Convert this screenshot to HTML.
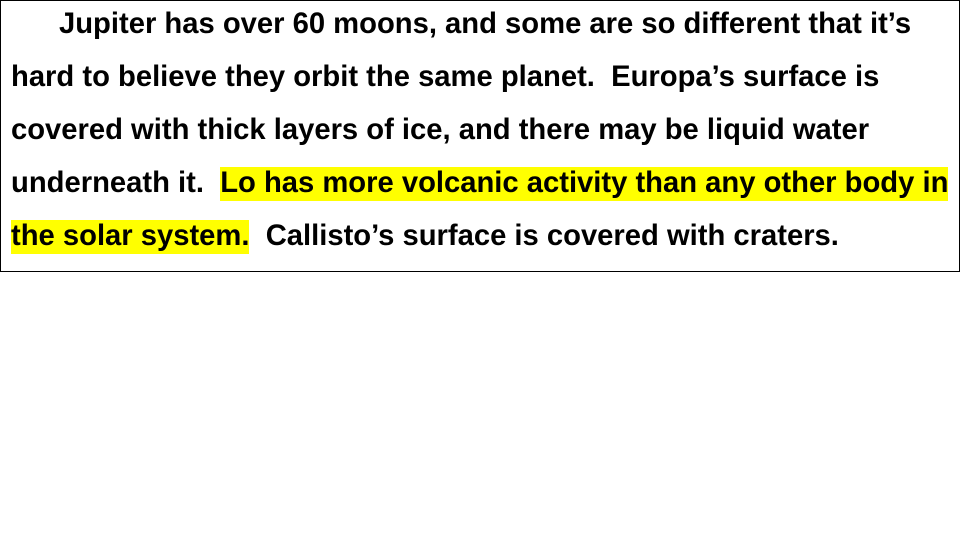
<!DOCTYPE html>
<html>
<head>
<meta charset="utf-8">
<style>
  html, body { margin: 0; padding: 0; background: #fff; }
  body { width: 960px; height: 540px; position: relative; overflow: hidden; }
  #box { position: absolute; left: 0; top: 0; width: 958px; height: 270px; border: 1px solid #000; }
  .ln { position: absolute; left: 10px; white-space: pre; font-family: "Liberation Sans", Arial, sans-serif; font-weight: bold; font-size: 29.2px; line-height: 30px; color: #000; }
  .hl { background: #ffff00; padding-bottom: 2px; }
</style>
</head>
<body>
<div id="box">
  <div class="ln" style="top:8px;left:58px">Jupiter has over 60 moons, and some are so different that it’s</div>
  <div class="ln" style="top:61px">hard to believe they orbit the same planet.  Europa’s surface is</div>
  <div class="ln" style="top:114px">covered with thick layers of ice, and there may be liquid water</div>
  <div class="ln" style="top:167px">underneath it.  <span class="hl">Lo has more volcanic activity than any other body in</span></div>
  <div class="ln" style="top:220px"><span class="hl">the solar system.</span>  Callisto’s surface is covered with craters.</div>
</div>
</body>
</html>
